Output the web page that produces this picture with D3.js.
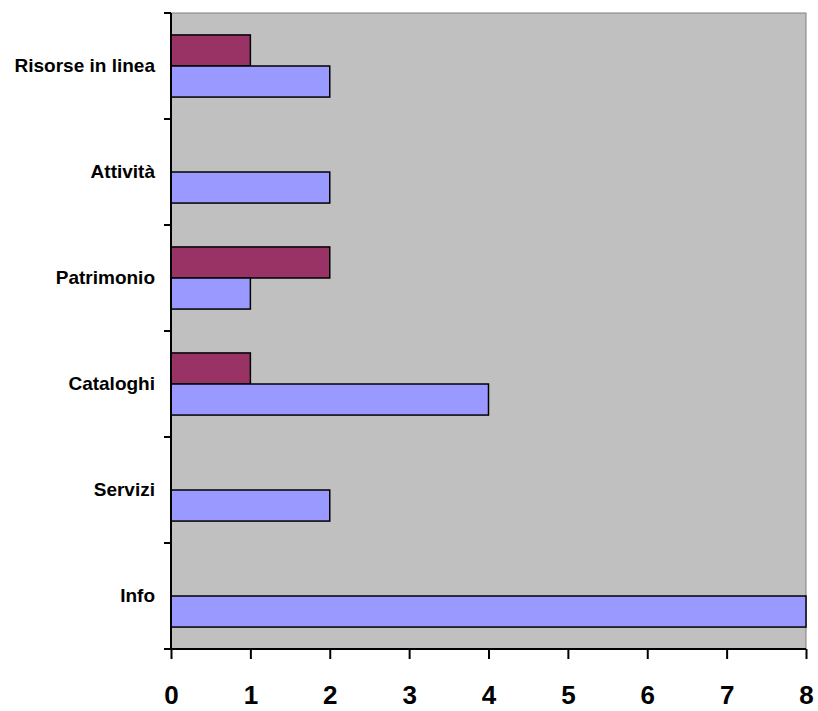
<!DOCTYPE html>
<html>
<head>
<meta charset="utf-8">
<script src="https://cdn.jsdelivr.net/npm/d3@7"></script>
<style>
  body { margin: 0; background: #fff; }
  svg { display: block; font-family: "Liberation Sans", Arial, sans-serif; }
</style>
</head>
<body>
<div id="chart"></div>
<script>
// categories from top to bottom
const categories = ["Risorse in linea", "Attività", "Patrimonio", "Cataloghi", "Servizi", "Info"];
const blueValues = [2, 2, 1, 4, 2, 8];
const maroonValues = [1, 0, 2, 1, 0, 0];
const xTicks = [0, 1, 2, 3, 4, 5, 6, 7, 8];

const width = 818;
const height = 711;
const margin = { top: 13, right: 12, bottom: 62, left: 171 };
const plotW = width - margin.left - margin.right;
const plotH = height - margin.top - margin.bottom;

const svg = d3.select("#chart")
    .append("svg")
    .attr("width", width)
    .attr("height", height);

const g = svg.append("g")
    .attr("transform", `translate(${margin.left},${margin.top})`);

const x = d3.scaleLinear()
    .domain([0, 8])
    .range([0, plotW]);

const y = d3.scaleBand()
    .domain(categories)
    .range([0, plotH]);

// two series, maroon on top, blue below, around band centre
const seriesNames = ["maroon", "blue"];
const sub = d3.scaleBand()
    .domain(seriesNames)
    .range([y.bandwidth() * 0.207, y.bandwidth() * 0.793]);

const colors = { maroon: "#993366", blue: "#9999FF" };

g.append("rect")
    .attr("width", plotW)
    .attr("height", plotH)
    .attr("fill", "#C0C0C0")
    .attr("stroke", "#808080")
    .attr("stroke-width", 1);

const rows = categories.map((c, i) => ({ cat: c, maroon: maroonValues[i], blue: blueValues[i] }));

seriesNames.forEach(s => {
    g.selectAll(".bar-" + s)
        .data(rows.filter(d => d[s] > 0))
        .enter().append("rect")
        .attr("class", "bar-" + s)
        .attr("x", 0)
        .attr("y", d => y(d.cat) + sub(s))
        .attr("width", d => x(d[s]))
        .attr("height", sub.bandwidth())
        .attr("fill", colors[s])
        .attr("stroke", "#000")
        .attr("stroke-width", 1.5);
});

// left axis: line plus boundary ticks
const yAxis = g.append("g");
yAxis.append("line")
    .attr("x1", 0).attr("x2", 0)
    .attr("y1", 0).attr("y2", plotH)
    .attr("stroke", "#000").attr("stroke-width", 2);
const bounds = categories.map(c => y(c)).concat([plotH]);
yAxis.selectAll(".ytick")
    .data(bounds)
    .enter().append("line")
    .attr("x1", -7).attr("x2", 0)
    .attr("y1", d => d).attr("y2", d => d)
    .attr("stroke", "#000").attr("stroke-width", 2);
yAxis.selectAll(".ylabel")
    .data(categories)
    .enter().append("text")
    .attr("x", -16)
    .attr("y", d => y(d) + y.bandwidth() / 2)
    .attr("dy", "0.33em")
    .attr("text-anchor", "end")
    .attr("font-size", 19)
    .attr("font-weight", "bold")
    .text(d => d);

// bottom axis
const xAxis = g.append("g")
    .attr("transform", `translate(0,${plotH})`)
    .call(d3.axisBottom(x).tickValues(xTicks).tickSize(10).tickPadding(27).tickFormat(d3.format("d")));
xAxis.select(".domain").attr("stroke-width", 2).attr("d", `M0,0H${plotW}`);
xAxis.selectAll(".tick line").attr("stroke-width", 2);
xAxis.selectAll(".tick text")
    .attr("font-size", 26)
    .attr("font-weight", "bold")
    .attr("font-family", "\"Liberation Sans\", Arial, sans-serif")
    .attr("fill", "#000");
</script>
</body>
</html>
